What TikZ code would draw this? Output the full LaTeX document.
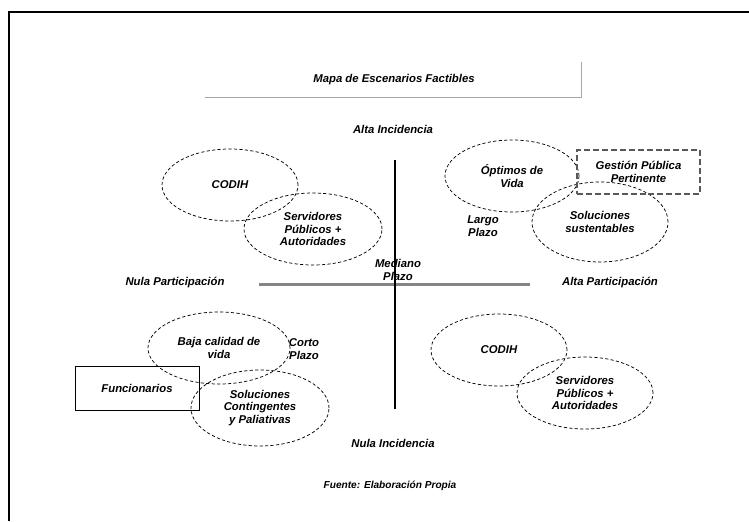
\documentclass[tikz,border=0pt]{standalone}
\usepackage{fontspec}
\setmainfont{Liberation Sans}
\usetikzlibrary{shapes.geometric,positioning}

\begin{document}
\begin{tikzpicture}[
x=0.75pt,y=-0.75pt,
MyLabels/.style={font=\fontsize{8.5}{9.4}\selectfont\bfseries\itshape,align=center,inner sep=0pt},
MyScenarios/.style={MyLabels,draw=black,ellipse,line width=0.55pt,dash pattern=on 2.4pt off 1.7pt},
MyBoxes/.style={MyLabels,draw=black,rectangle,line width=0.6pt},
TitleRule/.style={draw=black!35,line width=0.75pt},
Axis/.style={draw=black,line width=1pt},
GrayAxis/.style={draw=black!48,line width=2pt}
]
\useasboundingbox (0,0) rectangle (749,521);

% page frame
\draw[line width=1.5pt] (749,12) -- (9,12) -- (9,521);

% title
\node[MyLabels] (title) at (394,80) {Mapa de Escenarios Factibles};
\draw[TitleRule] (205,97) -- (581,97) -- (581,62);

% axes
\coordinate (HLeft) at (259,284.5);
\coordinate (HRight) at (530,284.5);
\coordinate (VTop) at (395,160);
\coordinate (VBot) at (395,409);
\draw[GrayAxis] (HLeft) -- (HRight);
\draw[Axis] (VTop) -- (VBot);

\node[MyLabels] (altaInc) at (393,129) {Alta Incidencia};
\node[MyLabels] (nulaInc) at (393,443) {Nula Incidencia};
\node[MyLabels] (nulaPart) at (175,283) {Nula Participación};
\node[MyLabels] (altaPart) at (610,283) {Alta Participación};
\node[MyLabels] (mediano) at (398,270) {Mediano\\Plazo};

% upper left
\node[MyScenarios,minimum width=102pt,minimum height=54pt] (codihA) at (230,185) {CODIH};
\node[MyScenarios,minimum width=103.5pt,minimum height=54pt] (servA) at (313,229) {Servidores\\Públicos +\\Autoridades};

% upper right
\node[MyScenarios,minimum width=100.5pt,minimum height=54pt] (optimos) at (512,176) {Óptimos de\\Vida};
\node[MyScenarios,minimum width=102pt,minimum height=60pt] (solSust) at (600,222) {Soluciones\\sustentables};
\node[MyBoxes,draw=black!65,line width=0.9pt,dash pattern=on 4.5pt off 2.2pt,minimum width=92.25pt,minimum height=33pt] (gestion) at (638.5,172) {Gestión Pública\\Pertinente};
\node[MyLabels] (largo) at (483,226) {Largo\\Plazo};

% lower left
\node[MyScenarios,minimum width=106.5pt,minimum height=54pt] (baja) at (219,348) {Baja calidad de\\vida};
\node[MyScenarios,minimum width=103.5pt,minimum height=57pt] (solCont) at (260,408) {Soluciones\\Contingentes\\y Paliativas};
\node[MyBoxes,minimum width=93pt,minimum height=33pt] (funcionarios) at (137,388) {Funcionarios};
\node[MyLabels] (corto) at (304,349) {Corto\\Plazo};

% lower right
\node[MyScenarios,minimum width=102pt,minimum height=54pt] (codihB) at (499,350) {CODIH};
\node[MyScenarios,minimum width=102pt,minimum height=54pt] (servB) at (585,393) {Servidores\\Públicos +\\Autoridades};

% source
\node[MyLabels,font=\fontsize{7.6}{8.4}\selectfont\bfseries\itshape] (fuente) at (390,486) {Fuente: Elaboración Propia};

\end{tikzpicture}
\end{document}
